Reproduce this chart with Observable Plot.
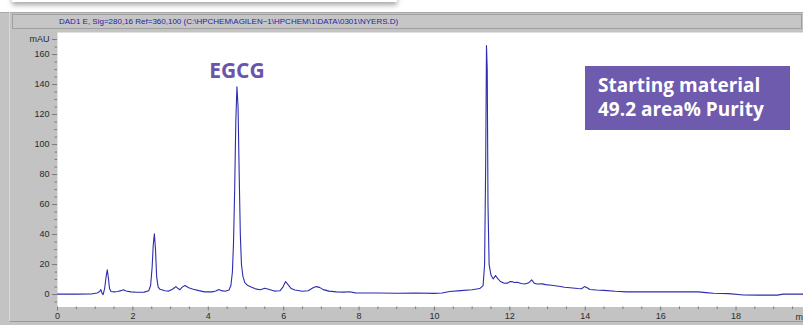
<!DOCTYPE html>
<html>
<head>
<meta charset="utf-8">
<script src="https://cdn.jsdelivr.net/npm/d3@7"></script>
<script src="https://cdn.jsdelivr.net/npm/@observablehq/plot@0.6"></script>
<style>
  html, body { margin: 0; padding: 0; background: #fff; }
  #wrap { position: relative; width: 803px; height: 325px; overflow: hidden; background: #fff; }
  #card { position: absolute; left: 12px; top: -30px; width: 385px; height: 32px; background: #fff;
          box-shadow: 0 3px 5px rgba(0,0,0,0.35); }
  #panel { position: absolute; left: 0; top: 12px; width: 803px; height: 313px; background: #c3c3c3;
           box-shadow: inset 0 1px 0 #a9a9a9; }
  #panelframe { position: absolute; left: 9px; top: 12px; width: 800px; height: 310px;
           border-left: 1px solid #d8d8d8; border-bottom: 1px solid #9a9a9a; box-sizing: border-box; }
  #header { position: absolute; left: 12px; top: 14px; width: 790px; height: 15px; background: #c6c6c6;
            border: 1px solid #a0a0a0; box-sizing: border-box;
            font-family: "Liberation Sans", Arial, sans-serif; font-size: 8px; color: #2424a8;
            line-height: 13px; padding-left: 46px; white-space: nowrap; }
  #chart { position: absolute; left: 0; top: 30px; }
  #box { position: absolute; left: 585px; top: 66px; width: 205px; height: 64px; background: #6f5bad;
         color: #fff; font-family: "Open Sans", sans-serif; font-weight: 700; font-size: 19px;
         line-height: 24px; padding: 7px 0 0 13px; box-sizing: border-box; white-space: nowrap; }
</style>
</head>
<body>
<div id="wrap">
  <div id="card"></div>
  <div id="panel"></div>
  <div id="panelframe"></div>
  <div id="header">DAD1 E, Sig=280,16 Ref=360,100 (C:\HPCHEM\AGILEN~1\HPCHEM\1\DATA\0301\NYERS.D)</div>
  <div id="chart"></div>
  <div id="box">Starting material<br>49.2 area% Purity</div>
</div>
<script>
// Retention time (min)
const time = [
  0, 0.5, 0.9, 1.05, 1.12, 1.15, 1.18, 1.21, 1.25, 1.29, 1.32, 1.35, 1.38, 1.42, 1.5, 1.6, 1.68, 1.75, 1.82, 1.95,
  2.1, 2.3, 2.42, 2.47, 2.51, 2.54, 2.57, 2.60, 2.63, 2.67, 2.72, 2.85, 2.95, 3.05, 3.14, 3.2, 3.25, 3.3, 3.38, 3.48,
  3.6, 3.75, 3.9, 4.1, 4.2, 4.28, 4.35, 4.45, 4.55, 4.6, 4.64, 4.67, 4.70, 4.73, 4.76, 4.79, 4.82, 4.85, 4.88, 4.92,
  4.97, 5.05, 5.15, 5.25, 5.38, 5.5, 5.6, 5.75, 5.9, 5.98, 6.05, 6.12, 6.2, 6.3, 6.5, 6.65, 6.78, 6.86, 6.95, 7.05,
  7.2, 7.4, 7.6, 7.75, 7.9, 8.5, 9.0, 9.5, 10.0, 10.2, 10.4, 10.7, 11.0, 11.2, 11.29, 11.33, 11.36, 11.38, 11.40, 11.42,
  11.45, 11.5, 11.56, 11.62, 11.67, 11.75, 11.85, 11.93, 12.0, 12.05, 12.12, 12.2, 12.3, 12.4, 12.5, 12.58, 12.65, 12.72, 12.86, 12.95,
  13.1, 13.3, 13.45, 13.6, 13.8, 13.9, 13.98, 14.05, 14.12, 14.3, 14.5, 14.8, 15.1, 16.0, 17.0, 17.2, 17.4, 17.8, 18.2, 18.6,
  19.1, 19.25, 19.79
];
// Absorbance (mAU)
const mAU = [
  0.3, 0.3, 0.4, 1.0, 2.0, 3.3, 1.0, 0.0, 4, 12, 16.5, 11, 4, 2, 1.8, 2.0, 2.6, 3.2, 2.4, 1.8,
  1.5, 1.6, 2.5, 6, 18, 33, 40.5, 30, 12, 5, 3.5, 2.5, 2.3, 3.5, 5.3, 4.0, 3.2, 4.8, 6, 4.5,
  3.5, 2.6, 1.8, 1.8, 2.4, 3.3, 2.6, 2.2, 3, 6, 15, 35, 70, 115, 138.5, 125, 80, 40, 20, 12,
  8, 6, 4.8, 3.8, 3.2, 4.2, 3.5, 2.3, 2.5, 5, 8.7, 6.5, 4, 3, 2.2, 2.5, 4.5, 5.3, 4.8, 3.3,
  2.3, 1.8, 1.6, 1.9, 1.1, 1.0, 0.9, 1.0, 0.8, 1.0, 2.0, 2.6, 3.2, 4, 6, 20, 90, 166, 150, 60,
  20, 13, 10.4, 12.7, 11, 8.7, 7.5, 7.6, 8.6, 8.7, 8.0, 8.2, 7.4, 7.0, 7.8, 9.8, 7.5, 7.0, 7.1, 6.6,
  6.2, 5.5, 4.9, 4.5, 4.0, 3.9, 5.3, 4.5, 3.4, 3.0, 2.8, 2.2, 1.8, 1.8, 1.8, 1.3, 0.9, 0.6, -0.3, -0.4,
  -0.4, 0.3, 0.3
];
const yMajorTicks = [0, 20, 40, 60, 80, 100, 120, 140, 160, 170];
const yMinorTicks = [-5, 5, 10, 15, 25, 30, 35, 45, 50, 55, 65, 70, 75, 85, 90, 95, 105, 110, 115, 125, 130, 135, 145, 150, 155, 165];
const xMajorTicks = [0, 2, 4, 6, 8, 10, 12, 14, 16, 18];
const xMinorTicks = [0.5, 1, 1.5, 2.5, 3, 3.5, 4.5, 5, 5.5, 6.5, 7, 7.5, 8.5, 9, 9.5, 10.5, 11, 11.5, 12.5, 13, 13.5, 14.5, 15, 15.5, 16.5, 17, 17.5, 18.5, 19, 19.5];
const peakLabels = [{t: 4.76, v: 149, label: "EGCG"}];
const unitLabel = [{t: 19.58, label: "m"}];

const data = time.map((t, i) => ({t, v: mAU[i]}));

const chart = Plot.plot({
  width: 803,
  height: 295,
  marginLeft: 57,
  marginRight: 0,
  marginTop: 2,
  marginBottom: 18.5,
  x: {domain: [0, 19.79]},
  y: {domain: [-8.3, 174.7]},
  style: {background: "transparent", fontFamily: "'Liberation Sans', Arial, sans-serif", fontSize: "9px", color: "#2a2a2a", overflow: "visible"},
  marks: [
    Plot.frame({fill: "#ffffff", stroke: null}),
    Plot.axisY({ticks: yMinorTicks, tickSize: 2.5, tickPadding: 0, text: null, stroke: "#7a7a7a", label: null}),
    Plot.axisY({ticks: yMajorTicks, tickSize: 5, tickPadding: 3, stroke: "#7a7a7a", label: null,
                tickFormat: d => d === 170 ? "mAU" : String(d)}),
    Plot.axisX({ticks: xMinorTicks, tickSize: 2.5, text: null, stroke: "#7a7a7a", label: null}),
    Plot.axisX({ticks: xMajorTicks, tickSize: 4, tickPadding: 2, stroke: "#7a7a7a", label: null, tickFormat: d => String(d)}),
    Plot.text(unitLabel, {x: "t", frameAnchor: "bottom", dy: 12.5, text: "label", textAnchor: "start", fill: "#2a2a2a"}),
    Plot.line(data, {x: "t", y: "v", stroke: "#2d2dae", strokeWidth: 1.1}),
    Plot.text(peakLabels, {x: "t", y: "v", text: "label", fill: "#6b55aa", fontSize: 21, fontWeight: "bold",
                           fontFamily: "'Open Sans', sans-serif"})
  ]
});
document.getElementById("chart").appendChild(chart);
</script>
</body>
</html>
